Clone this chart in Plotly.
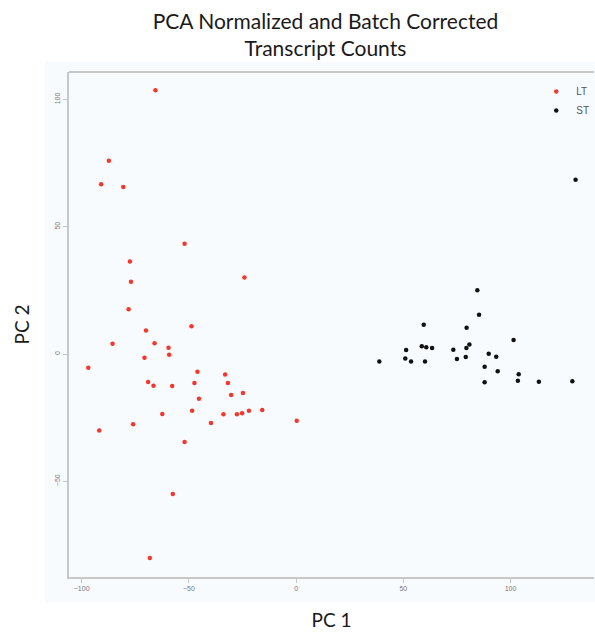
import plotly.graph_objects as go

# PCA scores, long-term (LT) samples
lt_pc1 = [-65.6, -87.3, -90.9, -80.6, -52.0, -77.5, -24.1, -77.0, -78.1, -48.8,
          -70.0, -85.6, -66.0, -59.5, -59.2, -70.7, -96.9, -46.0, -33.1, -69.0,
          -47.4, -31.8, -66.5, -57.8, -45.3, -30.3, -24.8, -62.4, -48.5, -33.9,
          -27.6, -25.2, -22.0, -15.8, 0.3, -39.7, -76.0, -91.8, -52.0, -57.5,
          -68.2]
lt_pc2 = [103.6, 75.9, 66.7, 65.6, 43.3, 36.4, 30.1, 28.4, 17.6, 10.9,
          9.2, 4.0, 4.2, 2.5, -0.3, -1.5, -5.4, -7.0, -8.0, -11.0,
          -11.4, -11.4, -12.5, -12.6, -17.6, -16.1, -15.3, -23.6, -22.3, -23.7,
          -23.7, -23.3, -22.3, -22.0, -26.2, -27.1, -27.6, -30.0, -34.6, -55.0,
          -80.1]

# PCA scores, short-term (ST) samples
st_pc1 = [84.5, 85.3, 59.5, 79.5, 101.4, 80.8, 58.6, 60.7, 63.4, 51.3,
          73.3, 79.4, 89.8, 93.3, 50.9, 53.6, 60.1, 75.0, 79.1, 38.8,
          87.9, 94.0, 103.8, 103.4, 87.9, 113.2, 128.8, 130.3]
st_pc2 = [25.1, 15.4, 11.5, 10.3, 5.5, 3.7, 3.1, 2.7, 2.4, 1.6,
          1.7, 2.4, 0.1, -1.1, -1.8, -2.9, -2.9, -2.0, -1.2, -2.9,
          -5.0, -6.8, -7.9, -10.5, -11.1, -10.9, -10.7, 68.5]

x_ticks = [-100, -50, 0, 50, 100]
y_ticks = [-50, 0, 50, 100]

panel_bg = "#f7fbfd"
axis_grey = "#c8c8c8"
tick_font = dict(family="Liberation Sans, Arial", size=7, color="#7a7a7a")
label_font = "Lato, Open Sans, sans-serif"

fig = go.Figure()
fig.add_trace(go.Scatter(x=lt_pc1, y=lt_pc2, mode="markers", name="LT",
                         marker=dict(color="#f4372c", size=4.5)))
fig.add_trace(go.Scatter(x=st_pc1, y=st_pc2, mode="markers", name="ST",
                         marker=dict(color="#111111", size=4.5)))

fig.update_layout(
    width=595, height=636,
    margin=dict(l=69, r=1, t=72, b=59),
    paper_bgcolor="white",
    plot_bgcolor=panel_bg,
    title=dict(text="PCA Normalized and Batch Corrected<br>Transcript Counts",
               x=0.547, xanchor="center", y=1 - 29 / 636, yanchor="middle",
               font=dict(family=label_font, size=21, color="#1a1a1a")),
    showlegend=True,
    legend=dict(x=0.89, y=0.99, xanchor="left", yanchor="top",
                bgcolor="rgba(0,0,0,0)", itemwidth=30,
                font=dict(family="Liberation Sans, Arial", size=10, color="#555555"),
                tracegroupgap=0),
    shapes=[dict(type="rect", xref="paper", yref="paper", layer="below",
                 x0=-0.046, x1=1.01, y0=-0.05, y1=1.02,
                 fillcolor=panel_bg, line=dict(width=0))],
)

fig.update_xaxes(range=[-105.9, 138.9], tickvals=x_ticks,
                 ticks="outside", ticklen=4, tickcolor=axis_grey, tickwidth=1,
                 showline=True, linecolor=axis_grey, linewidth=2, mirror=False,
                 showgrid=False, zeroline=False, tickfont=tick_font,
                 title=dict(text="PC 1", standoff=22,
                            font=dict(family=label_font, size=19, color="#1a1a1a")))
fig.update_yaxes(range=[-87.6, 110.8], tickvals=y_ticks, tickangle=-90,
                 ticks="outside", ticklen=4, tickcolor=axis_grey, tickwidth=1,
                 showline=True, linecolor=axis_grey, linewidth=2, mirror=False,
                 showgrid=False, zeroline=False, tickfont=tick_font,
                 title=dict(text="PC 2", standoff=20,
                            font=dict(family=label_font, size=19, color="#1a1a1a")))

# top border of the plotting frame
fig.add_shape(type="line", xref="paper", yref="paper", x0=0, x1=1, y0=1, y1=1,
              line=dict(color=axis_grey, width=2))

fig.write_html("out.html")
